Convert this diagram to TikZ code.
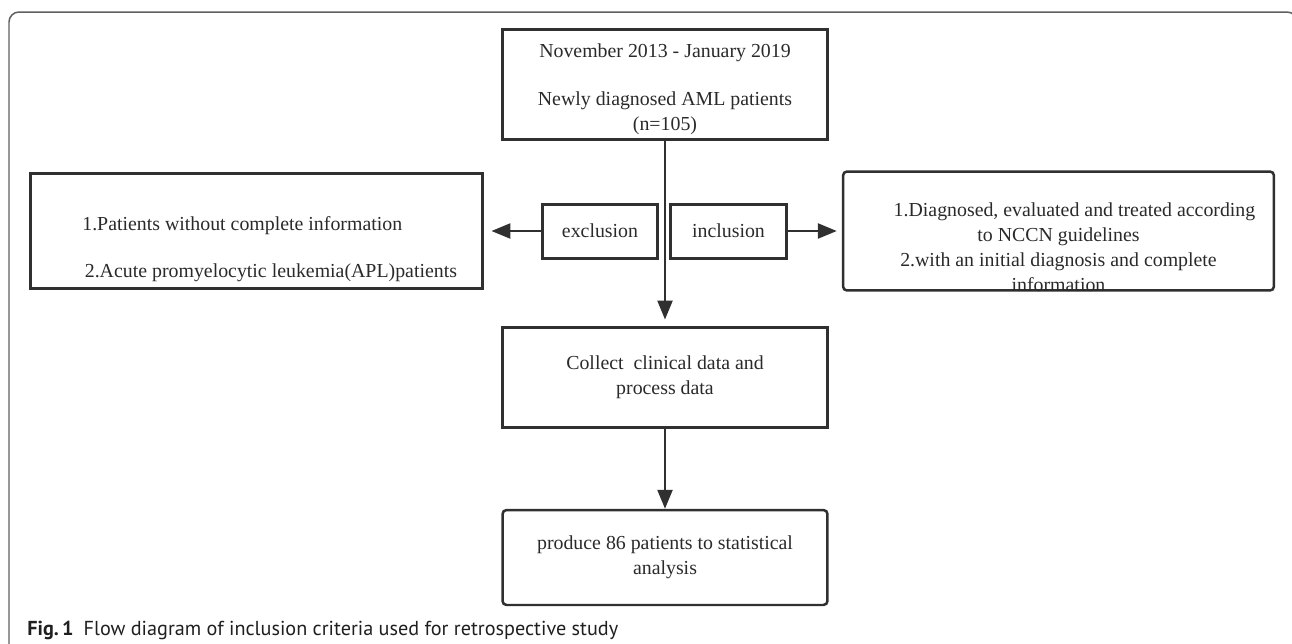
\documentclass[tikz,border=0pt]{standalone}
\usepackage{fontspec}
\setmainfont{Liberation Serif}
\newfontfamily\captionfont{PT Sans}
\usetikzlibrary{arrows.meta}
\definecolor{boxline}{HTML}{303030}
\definecolor{boxtext}{HTML}{2A2A2A}
\definecolor{framegray}{HTML}{606060}

\begin{document}
\begin{tikzpicture}[x=0.02cm,y=-0.02cm,
                        flowbox/.style={draw=boxline,line width=0.06cm,inner sep=0pt,text=boxtext,align=center},
                        roundbox/.style={flowbox,line width=0.05cm,rounded corners=0.08cm},
                        boxtxt/.style={inner sep=0pt,text=boxtext},
                        flowarrow/.style={draw=boxline,line width=0.048cm,-{Triangle[width=0.3cm,length=0.38cm]}}]
                        \useasboundingbox (0,0) rectangle (1292,643);
                        {\fontsize{11.3}{14.2}\selectfont

                        % Drawing outer frame (open at the bottom)
                        \draw [framegray,line width=0.03cm,rounded corners=0.2cm] (9,700) -- (9,12) -- (1297,12) -- (1297,700);%

                        % Drawing box of the start
                        \node [flowbox,minimum width=6.5cm,minimum height=2.22cm] (start) at (665,84.5) {};%
                        \node [boxtxt,align=center] (startTxt) at (665,89) {November 2013 - January 2019\\[0.46cm]Newly diagnosed AML patients\\(n=105)};%

                        % Drawing boxes of exclusion and inclusion
                        \node [flowbox,minimum width=2.32cm,minimum height=1.08cm] (excl) at (600,231) {exclusion};%
                        \node [flowbox,minimum width=2.34cm,minimum height=1.08cm] (incl) at (728.5,231) {inclusion};%

                        % Drawing box of the exclusion list
                        \node [flowbox,minimum width=9.06cm,minimum height=2.32cm] (exclList) at (256.5,231) {};%
                        \node [boxtxt,align=left,anchor=west] (exclTxt) at (82,249) {1.Patients without complete information\\[0.44cm]\hspace*{0.05cm}2.Acute promyelocytic leukemia(APL)patients};%

                        % Drawing box of the inclusion list
                        \node [roundbox,minimum width=8.62cm,minimum height=2.38cm] (inclList) at (1058.5,231) {};%
                        \node [boxtxt,align=center] (inclTxt) at (1058.5,247) {\hspace*{0.64cm}1.Diagnosed, evaluated and treated according\\to NCCN guidelines\\2.with an initial diagnosis and complete\\information};%

                        % Drawing box of the data collection
                        \node [flowbox,minimum width=6.5cm,minimum height=2.02cm] (collect) at (665,377.5) {Collect\ \ clinical data and\\process data};%

                        % Drawing box of the result
                        \node [roundbox,minimum width=6.5cm,minimum height=1.9cm] (produce) at (665,557.5) {produce 86 patients to statistical\\analysis};%

                        % Drawing arrows
                        \draw [flowarrow,shorten >=0.12cm] (start) -- (collect);%
                        \draw [flowarrow,shorten >=0.14cm] (excl) -- (exclList);%
                        \draw [flowarrow,shorten >=0.1cm] (incl) -- (inclList);%
                        \draw [flowarrow] (collect) -- (produce);%
                        }

                        % Marking the caption
                        \node [anchor=base west,inner sep=0pt,text=black!88] (figCap) at (27,635) {\captionfont\fontsize{11.5}{13}\selectfont\textbf{Fig.\,1}\hspace{0.2cm}Flow diagram of inclusion criteria used for retrospective study};%
                    \end{tikzpicture}
\end{document}
